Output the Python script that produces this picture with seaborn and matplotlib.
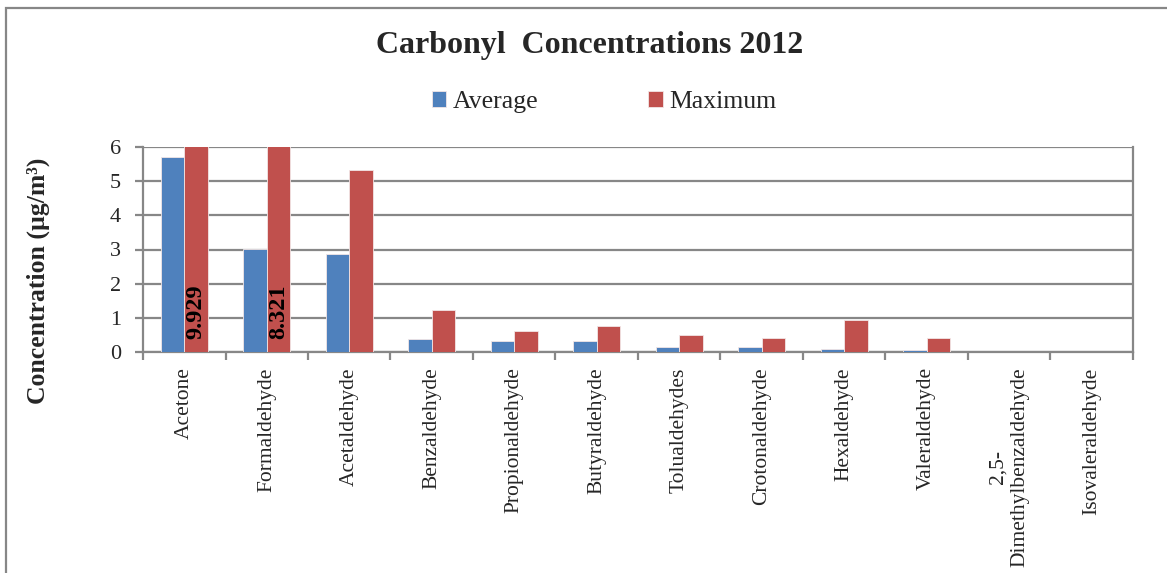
import matplotlib
matplotlib.use("Agg")
import matplotlib.pyplot as plt
import seaborn as sns
import pandas as pd
from matplotlib.patches import Rectangle

compounds = ["Acetone", "Formaldehyde", "Acetaldehyde", "Benzaldehyde",
             "Propionaldehyde", "Butyraldehyde", "Tolualdehydes", "Crotonaldehyde",
             "Hexaldehyde", "Valeraldehyde", "2,5-\nDimethylbenzaldehyde",
             "Isovaleraldehyde"]
average = [5.70, 3.01, 2.88, 0.37, 0.32, 0.31, 0.16, 0.15, 0.09, 0.07, 0.0, 0.0]
maximum = [9.929, 8.321, 5.34, 1.22, 0.61, 0.76, 0.51, 0.41, 0.95, 0.40, 0.0, 0.0]
series = ["Average", "Maximum"]
colors = ["#4F81BD", "#C0504D"]
y_ticks = [0, 1, 2, 3, 4, 5, 6]

df = pd.DataFrame({
    "compound": compounds * 2,
    "value": average + maximum,
    "series": [series[0]] * len(compounds) + [series[1]] * len(compounds),
})

sns.set_style("white")
plt.rcParams["font.family"] = ["Liberation Serif", "DejaVu Serif"]

W, H = 1167, 573
fig = plt.figure(figsize=(W / 100, H / 100), dpi=100)
ax = fig.add_axes([143 / W, 1 - 352 / H, 990 / W, 205 / H])

grid_c = "#878787"
sns.barplot(data=df, x="compound", y="value", hue="series", palette=colors,
            width=0.57, gap=0, saturation=1, ax=ax, legend=True,
            edgecolor="#F2E6E6", linewidth=0.6, zorder=3)

ax.set_ylim(0, 6)
ax.set_xlim(-0.5, len(compounds) - 0.5)
ax.set_yticks(y_ticks)
ax.set_yticklabels([str(t) for t in y_ticks], fontsize=16)
ax.yaxis.grid(True, color=grid_c, linewidth=1.6, zorder=0)
ax.set_axisbelow(True)
for s in ax.spines.values():
    s.set_color(grid_c)
    s.set_linewidth(1.6)
ax.spines["top"].set_visible(False)

ax.tick_params(axis="y", direction="out", length=6, width=1.6, color=grid_c, pad=10, left=True)
ax.set_xticks(range(len(compounds)))
ax.set_xticklabels(compounds, rotation=90, fontsize=15.5, multialignment="center")
ax.tick_params(axis="x", which="major", length=0, pad=11)
ax.set_xticks([i - 0.5 for i in range(len(compounds) + 1)], minor=True)
ax.tick_params(axis="x", which="minor", direction="out", length=6, width=1.6,
               color=grid_c, bottom=True)
ax.set_xlabel("")
ax.set_ylabel("")

# Maximum values that run past the top of the axis are written on their bars
top = ax.get_ylim()[1]
for bar, v in zip(ax.containers[1], maximum):
    if v > top:
        ax.text(bar.get_x() + bar.get_width() / 2, 0.38, f"{v:.3f}",
                rotation=90, ha="center", va="bottom", fontsize=17.5,
                fontweight="bold", color="black", zorder=5)

handles, labels = ax.get_legend_handles_labels()
ax.get_legend().remove()
fig.legend(handles, labels, loc="center", bbox_to_anchor=(604 / W, 1 - 102 / H),
           ncol=2, frameon=False, fontsize=18.5, handlelength=0.55,
           handleheight=0.55, handletextpad=0.25, columnspacing=4.3)

fig.text(590 / W, 1 - 45 / H, "Carbonyl  Concentrations 2012", ha="center",
         va="center", fontsize=23, fontweight="bold")
fig.text(38 / W, 1 - 281 / H, "Concentration (µg/m³)", rotation=90,
         ha="center", va="center", fontsize=18.5, fontweight="bold")

# Chart area frame
fig.patches.append(Rectangle((5.5 / W, -0.05), 1.2, 1.05 - 8.5 / H,
                             transform=fig.transFigure, fill=False,
                             edgecolor=grid_c, linewidth=1.6))

fig.savefig("out.png", dpi=100)
